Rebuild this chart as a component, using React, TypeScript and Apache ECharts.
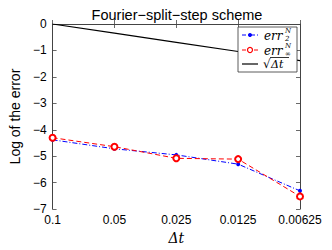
import React, { useEffect, useRef } from "react";
import * as echarts from "echarts";

const categories = ["0.1", "0.05", "0.025", "0.0125", "0.00625"];
const err2 = [-4.38, -4.72, -4.95, -5.3, -6.31];
const errInf = [-4.3, -4.64, -5.08, -5.11, -6.52];
const sqrtDt = [0, -0.3466, -0.6931, -1.0397, -1.3863];
const yTicks = [0, -1, -2, -3, -4, -5, -6, -7];

const FONT = "Liberation Sans, Arial, sans-serif";
const SERIF = "DejaVu Serif, Liberation Serif, serif";
const AXIS = "#444";

export default function App() {
  const ref = useRef<HTMLDivElement>(null);
  useEffect(() => {
    const chart = echarts.init(ref.current!, undefined, { renderer: "svg" });
    const tickStyle = { show: true, inside: true, length: 4, lineStyle: { color: AXIS, width: 0.8 } };
    const t = (x: number, y: number, text: string, font: string) => ({
      type: "text",
      z: 100,
      x,
      y,
      style: { text, font, fill: "#000", textVerticalAlign: "middle", verticalAlign: "middle" },
    });
    chart.setOption({
      animation: false,
      backgroundColor: "#fff",
      title: {
        text: "Fourier\u2212split\u2212step scheme",
        left: 172,
        textAlign: "center",
        top: 2,
        textStyle: { fontFamily: FONT, fontSize: 14.5, fontWeight: "normal", color: "#000" },
      },
      grid: { left: 43, right: 32, top: 24, bottom: 29 },
      graphic: [
        { type: "rect", z: 90, shape: { x: 238, y: 27, width: 59, height: 45 }, style: { fill: "#fff", stroke: "#333", lineWidth: 0.8 } },
        { type: "line", z: 95, shape: { x1: 242, y1: 35, x2: 258, y2: 35 }, style: { stroke: "#0000ff", lineWidth: 1, lineDash: [4, 2, 1, 2] } },
        { type: "circle", z: 96, shape: { cx: 250, cy: 35, r: 2 }, style: { fill: "#0000ff" } },
        t(264, 36, "err", "italic 12px " + SERIF),
        t(285, 31, "N", "italic 7px " + SERIF),
        t(285, 38.5, "2", "italic 7px " + SERIF),
        { type: "line", z: 95, shape: { x1: 242, y1: 50, x2: 258, y2: 50 }, style: { stroke: "#ff0000", lineWidth: 1, lineDash: [4, 2] } },
        { type: "circle", z: 96, shape: { cx: 250, cy: 50, r: 2.5 }, style: { fill: "#fff", stroke: "#ff0000", lineWidth: 1.2 } },
        t(264, 51, "err", "italic 12px " + SERIF),
        t(285, 46, "N", "italic 7px " + SERIF),
        t(285, 54, "\u221E", "7px " + SERIF),
        { type: "line", z: 95, shape: { x1: 242, y1: 64, x2: 258, y2: 64 }, style: { stroke: "#000", lineWidth: 1.2 } },
        t(263, 64, "\u221A", "12px " + SERIF),
        t(271, 64, "\u0394t", "italic 11px " + SERIF),
        { type: "line", z: 100, shape: { x1: 270, y1: 57.5, x2: 289, y2: 57.5 }, style: { stroke: "#000", lineWidth: 0.8 } },
      ],
      xAxis: [
        {
          type: "category",
          data: categories,
          boundaryGap: false,
          axisLine: { lineStyle: { color: AXIS, width: 1 } },
          axisTick: tickStyle,
          axisLabel: { fontFamily: FONT, fontSize: 12, color: "#000", margin: 5 },
          name: "\u0394t",
          nameLocation: "middle",
          nameGap: 18,
          nameTextStyle: { fontFamily: SERIF, fontStyle: "italic", fontSize: 14, color: "#000" },
          splitLine: { show: false },
        },
        {
          type: "category",
          data: categories,
          position: "top",
          boundaryGap: false,
          axisLine: { lineStyle: { color: AXIS, width: 1 } },
          axisTick: tickStyle,
          axisLabel: { show: false },
          splitLine: { show: false },
        },
      ],
      yAxis: [
        {
          type: "value",
          min: -7,
          max: 0,
          interval: 1,
          axisLine: { show: true, lineStyle: { color: AXIS, width: 1 } },
          axisTick: tickStyle,
          axisLabel: {
            fontFamily: FONT,
            fontSize: 12,
            color: "#000",
            margin: 6,
            formatter: (v: number) => (yTicks.includes(v) ? String(v).replace("-", "\u2212") : ""),
          },
          splitLine: { show: false },
          name: "Log of the error",
          nameLocation: "middle",
          nameGap: 19,
          nameTextStyle: { fontFamily: FONT, fontSize: 14, color: "#000" },
        },
        {
          type: "value",
          min: -7,
          max: 0,
          interval: 1,
          position: "right",
          axisLine: { show: true, lineStyle: { color: AXIS, width: 1 } },
          axisTick: tickStyle,
          axisLabel: { show: false },
          splitLine: { show: false },
        },
      ],
      series: [
        {
          name: "sqrt",
          type: "line",
          data: sqrtDt,
          showSymbol: false,
          symbol: "none",
          lineStyle: { color: "#000", width: 1.2 },
          itemStyle: { color: "#000" },
          z: 1,
        },
        {
          name: "err2",
          type: "line",
          data: err2,
          symbol: "circle",
          symbolSize: 4,
          lineStyle: { color: "#0000ff", width: 1, type: [5, 2, 1, 2] },
          itemStyle: { color: "#0000ff" },
        },
        {
          name: "errInf",
          type: "line",
          data: errInf,
          symbol: "emptyCircle",
          symbolSize: 6,
          lineStyle: { color: "#ff0000", width: 1, type: [5, 3] },
          itemStyle: { color: "#ff0000", borderWidth: 1.2 },
        },
      ],
    });
    return () => chart.dispose();
  }, []);
  return <div ref={ref} style={{ width: 332, height: 250, position: "absolute", left: 0, top: 0 }} />;
}
